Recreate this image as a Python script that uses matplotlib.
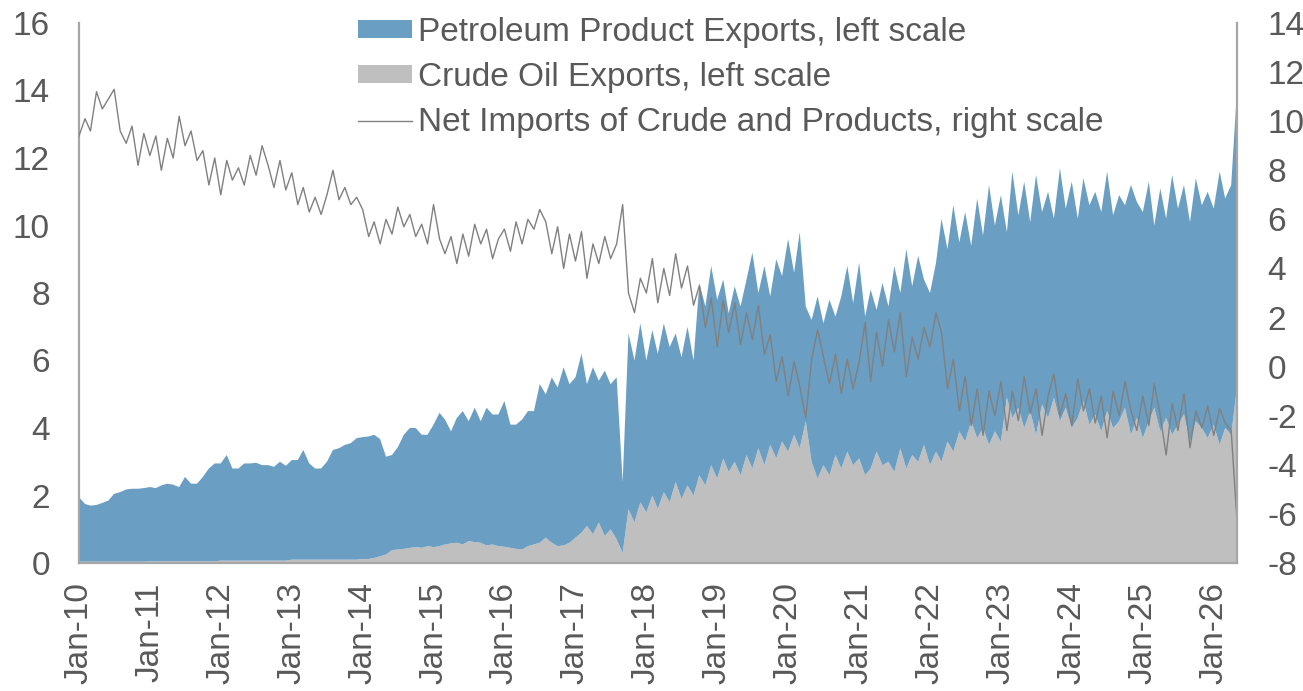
import matplotlib
matplotlib.use("Agg")
import matplotlib.pyplot as plt
import matplotlib.dates as mdates
import numpy as np
import pandas as pd

plt.rcParams['font.family'] = ['Liberation Sans', 'DejaVu Sans']
plt.rcParams['axes.unicode_minus'] = False

# monthly readings, Jan 2010 .. May 2026 (mb/d)
dates = pd.date_range("2010-01-01", "2026-05-01", freq="MS")

product_exports = [
    1.91, 1.71, 1.66, 1.68, 1.74, 1.81, 2.01, 2.06, 2.14, 2.16, 2.16, 2.18,  # 2010
    2.20, 2.17, 2.25, 2.30, 2.27, 2.20, 2.50, 2.30, 2.30, 2.50, 2.75, 2.90,  # 2011
    2.88, 3.13, 2.73, 2.73, 2.88, 2.88, 2.90, 2.83, 2.83, 2.78, 2.93, 2.81,  # 2012
    2.95, 2.95, 3.25, 2.85, 2.70, 2.70, 2.90, 3.25, 3.30, 3.40, 3.45, 3.60,  # 2013
    3.61, 3.63, 3.65, 3.47, 2.90, 2.82, 3.03, 3.38, 3.55, 3.53, 3.35, 3.30,  # 2014
    3.63, 3.95, 3.70, 3.32, 3.70, 3.95, 3.55, 3.98, 3.60, 4.08, 3.85, 3.90,  # 2015
    4.32, 3.65, 3.68, 3.85, 4.00, 3.95, 4.70, 4.25, 4.90, 4.70, 5.28, 4.70,  # 2016
    4.75, 5.30, 4.20, 4.95, 4.20, 4.90, 4.30, 4.80, 2.10, 5.20, 4.80, 5.30,  # 2017
    4.5, 4.9, 4.6, 5.0, 4.6, 4.4, 4.2, 4.7, 4.0, 5.7, 5.3, 5.9,  # 2018
    5.3, 5.3, 4.7, 5.2, 5.0, 5.2, 6.4, 4.6, 5.9, 4.4, 5.9, 4.9,  # 2019
    6.3, 4.8, 6.4, 3.4, 4.2, 5.4, 4.2, 5.2, 4.1, 5.1, 5.5, 4.8,  # 2020
    5.8, 4.7, 5.3, 4.2, 5.4, 4.6, 6.1, 4.6, 6.5, 5.0, 6.1, 4.9,  # 2021
    5.1, 5.6, 7.2, 5.7, 7.3, 5.6, 6.8, 5.2, 7.1, 5.7, 7.7, 6.1,  # 2022
    7.3, 4.9, 7.3, 5.7, 7.3, 5.6, 7.7, 5.7, 6.7, 5.3, 7.5, 5.9,  # 2023
    7.3, 5.9, 6.6, 6.5, 6.6, 6.5, 7.1, 6.3, 6.7, 6.0, 7.4, 6.4,  # 2024
    6.7, 7.1, 5.4, 7.2, 5.9, 7.7, 6.4, 6.8, 6.5, 7.2, 6.6, 7.3,  # 2025
    6.4, 8.1, 6.8, 7.4, 8.8,  # 2026
]

crude_exports = [
    0.04, 0.04, 0.04, 0.04, 0.04, 0.04, 0.04, 0.04, 0.04, 0.04, 0.04, 0.04,  # 2010
    0.05, 0.05, 0.05, 0.05, 0.05, 0.05, 0.05, 0.05, 0.05, 0.05, 0.05, 0.05,  # 2011
    0.07, 0.07, 0.07, 0.07, 0.07, 0.07, 0.07, 0.07, 0.07, 0.07, 0.07, 0.07,  # 2012
    0.10, 0.10, 0.10, 0.10, 0.10, 0.10, 0.10, 0.10, 0.10, 0.10, 0.10, 0.10,  # 2013
    0.12, 0.12, 0.15, 0.20, 0.25, 0.38, 0.40, 0.42, 0.45, 0.47, 0.45, 0.50,  # 2014
    0.47, 0.50, 0.55, 0.58, 0.60, 0.55, 0.65, 0.62, 0.60, 0.52, 0.55, 0.50,  # 2015
    0.48, 0.45, 0.42, 0.40, 0.50, 0.55, 0.60, 0.75, 0.60, 0.50, 0.52, 0.60,  # 2016
    0.75, 0.90, 1.10, 0.85, 1.20, 0.80, 1.00, 0.70, 0.30, 1.60, 1.20, 1.80,  # 2017
    1.5, 2.0, 1.6, 2.1, 1.8, 2.4, 1.9, 2.3, 2.0, 2.6, 2.3, 2.9,  # 2018
    2.5, 3.1, 2.7, 3.0, 2.6, 3.2, 2.8, 3.4, 2.9, 3.5, 3.1, 3.6,  # 2019
    3.3, 3.8, 3.4, 4.2, 3.0, 2.5, 2.9, 2.6, 3.2, 2.8, 3.3, 2.9,  # 2020
    3.1, 2.6, 2.8, 3.3, 2.9, 3.0, 2.7, 3.4, 2.8, 3.2, 3.0, 3.5,  # 2021
    2.9, 3.3, 3.0, 3.6, 3.3, 3.9, 3.6, 4.2, 3.7, 4.0, 3.5, 3.9,  # 2022
    3.6, 4.9, 4.3, 4.6, 4.0, 4.5, 3.8, 4.7, 4.3, 4.9, 4.2, 4.6,  # 2023
    4.0, 4.3, 4.8, 4.1, 4.4, 3.9, 4.5, 4.0, 4.2, 4.6, 3.8, 4.3,  # 2024
    3.7, 4.2, 4.6, 3.9, 4.3, 3.8, 4.1, 4.4, 3.6, 4.2, 4.0, 3.7,  # 2025
    4.1, 3.5, 4.0, 3.8, 5.2,  # 2026
]

net_imports = [
    9.4, 10.1, 9.6, 11.2, 10.5, 10.9, 11.3, 9.6, 9.1, 9.8, 8.2, 9.5,  # 2010
    8.6, 9.4, 8.0, 9.3, 8.5, 10.2, 9.0, 9.6, 8.4, 8.8, 7.4, 8.5,  # 2011
    7.0, 8.4, 7.6, 8.1, 7.4, 8.6, 7.8, 9.0, 8.2, 7.3, 8.4, 7.2,  # 2012
    7.9, 6.6, 7.3, 6.3, 6.9, 6.2, 7.0, 8.0, 6.8, 7.3, 6.6, 6.9,  # 2013
    6.4, 5.3, 5.9, 5.0, 6.0, 5.4, 6.5, 5.7, 6.2, 5.3, 5.8, 5.0,  # 2014
    6.6, 5.2, 4.6, 5.3, 4.2, 5.4, 4.5, 5.8, 5.0, 5.6, 4.4, 5.2,  # 2015
    5.6, 4.7, 5.9, 5.0, 6.0, 5.6, 6.4, 5.9, 4.6, 5.7, 4.0, 5.4,  # 2016
    4.3, 5.5, 3.6, 5.0, 4.2, 5.3, 4.4, 5.0, 6.6, 3.0, 2.2, 3.6,  # 2017
    3.0, 4.4, 2.6, 4.0, 2.9, 4.6, 3.2, 4.1, 2.5, 3.3, 1.6, 2.8,  # 2018
    0.8, 2.7, 1.4, 2.6, 0.9, 2.2, 1.1, 2.5, 0.5, 1.3, -0.6, 0.4,  # 2019
    -1.2, 0.2, -0.8, -2.1, 0.3, 1.5, 0.4, -0.7, 0.5, -1.1, 0.3, -0.9,  # 2020
    0.2, 1.8, -0.6, 1.4, 0.0, 1.9, 0.6, 2.2, -0.4, 1.2, 0.3, 1.6,  # 2021
    0.8, 2.2, 1.4, -0.9, 0.3, -1.8, -0.4, -2.4, -0.9, -2.8, -1.0, -2.0,  # 2022
    -0.6, -2.6, -1.0, -2.2, -0.4, -1.9, -0.9, -2.8, -1.2, -0.3, -2.0, -1.1,  # 2023
    -2.4, -0.5, -1.8, -0.9, -2.3, -1.2, -2.9, -1.0, -2.0, -0.6, -1.8, -2.6,  # 2024
    -1.2, -2.4, -0.7, -2.0, -3.6, -1.5, -2.6, -1.1, -3.3, -1.8, -2.5, -1.6,  # 2025
    -2.8, -1.7, -2.3, -2.6, -6.3,  # 2026
]

labels = ["Petroleum Product Exports, left scale",
          "Crude Oil Exports, left scale",
          "Net Imports of Crude and Products, right scale"]

BLUE = "#6a9ec2"
GREY = "#bfbfbf"
LINE = "#808080"
TXT = "#595959"
AXC = "#a6a6a6"

fig = plt.figure(figsize=(13.03, 6.91), dpi=100)
ax = fig.add_axes([79 / 1303, 1 - 563 / 691, (1237 - 79) / 1303, (563 - 23) / 691])

polys = ax.stackplot(dates, crude_exports, product_exports, colors=[GREY, BLUE], lw=0)
ax.set_ylim(0, 16)
ax.set_yticks(np.arange(0, 17, 2))
ax.set_xlim(dates[0], dates[-1])
ax.xaxis.set_major_locator(mdates.YearLocator())
ax.xaxis.set_major_formatter(mdates.DateFormatter("%b-%y"))

ax2 = ax.twinx()
line, = ax2.plot(dates, net_imports, color=LINE, lw=1.0)
ax2.set_ylim(-8, 14)
ax2.set_yticks(np.arange(-8, 15, 2))

for a in (ax, ax2):
    for s in a.spines.values():
        s.set_color(AXC)
        s.set_linewidth(1.6)
    a.spines["top"].set_visible(False)
ax.spines["right"].set_visible(False)
ax2.spines["left"].set_visible(False)
ax2.spines["bottom"].set_visible(False)

ax.tick_params(axis="y", length=0, pad=21, labelsize=24, labelcolor=TXT)
ax.tick_params(axis="x", length=0, pad=14, labelsize=24, labelcolor=TXT, rotation=90)
ax2.tick_params(axis="y", length=0, pad=22, labelsize=24, labelcolor=TXT)

handles = [polys[1], polys[0], line]
fig.legend(handles, labels, loc="upper left", bbox_to_anchor=(358 / 1303, 1 - 17 / 691),
           frameon=False, fontsize=24, labelcolor=TXT, borderpad=0, borderaxespad=0,
           handlelength=1.62, handleheight=0.42, handletextpad=0.18, labelspacing=0.42)

fig.savefig("out.png", dpi=100)
